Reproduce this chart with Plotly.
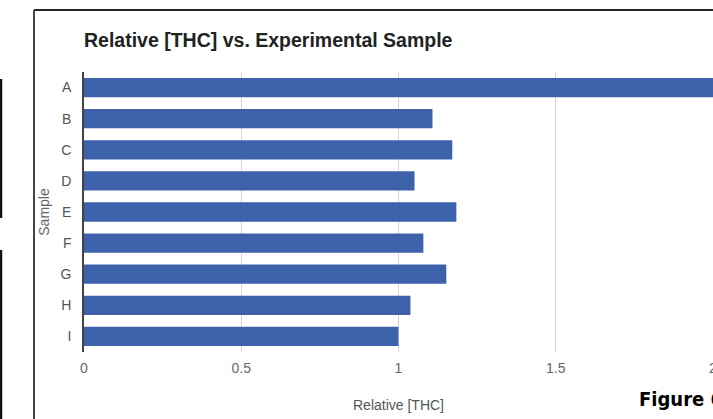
import plotly.graph_objects as go

samples = ["A", "B", "C", "D", "E", "F", "G", "H", "I"]
relative_thc = [2.0, 1.108, 1.171, 1.051, 1.184, 1.079, 1.152, 1.038, 1.0]
x_ticks = [0, 0.5, 1, 1.5, 2]
x_tick_labels = ["0", "0.5", "1", "1.5", "2"]

W, H = 713, 419
L, R, T, B = 84, 0, 72, 67
PW, PH = W - L - R, H - T - B

def px(x):
    return (x - L) / PW

def py(y):
    return (H - B - y) / PH

fig = go.Figure()
fig.add_trace(go.Bar(
    x=relative_thc, y=samples, orientation="h",
    marker=dict(color="#3d62ab", line=dict(width=0)),
))

fig.update_layout(
    width=W, height=H,
    margin=dict(l=L, r=R, t=T, b=B, pad=0, autoexpand=False),
    paper_bgcolor="white", plot_bgcolor="white",
    bargap=0.38,
    showlegend=False,
    font=dict(family="Liberation Sans, Arial, sans-serif", size=14, color="#555"),
    title=dict(
        text="<b>Relative [THC] vs. Experimental Sample</b>",
        x=0, xref="paper", xanchor="left",
        y=1 - 40 / H, yref="container", yanchor="middle",
        font=dict(size=19.5, color="#222", family="Liberation Sans, Arial, sans-serif"),
    ),
    xaxis=dict(
        range=[0, 2], tickvals=x_ticks, ticktext=x_tick_labels,
        showgrid=True, gridcolor="#d4d4d4", gridwidth=1,
        zeroline=False, showline=False, ticks="",
        ticklabelstandoff=6, ticklabeloverflow="allow",
        automargin=False,
        tickfont=dict(size=14, color="#666"),
        title=dict(text="Relative [THC]", standoff=25, font=dict(size=14, color="#555")),
        fixedrange=True,
    ),
    yaxis=dict(
        autorange="reversed",
        showgrid=False, zeroline=False,
        showline=True, linecolor="#444", linewidth=1.5,
        ticks="", ticklabelstandoff=8,
        automargin=False,
        tickfont=dict(size=14, color="#555"),
        title=dict(text="Sample", standoff=8, font=dict(size=14, color="#666")),
        fixedrange=True,
    ),
)

shapes = []
# frame lines of the scanned figure box
shapes.append(dict(type="line", xref="paper", yref="paper",
                   x0=px(34), x1=px(720), y0=py(10), y1=py(10),
                   line=dict(color="#222", width=2)))
shapes.append(dict(type="line", xref="paper", yref="paper",
                   x0=px(34), x1=px(34), y0=py(10), y1=py(425),
                   line=dict(color="#444", width=2)))
# page rule fragments on far left
shapes.append(dict(type="line", xref="paper", yref="paper",
                   x0=px(1), x1=px(1), y0=py(79), y1=py(218),
                   line=dict(color="#111", width=2.5)))
shapes.append(dict(type="line", xref="paper", yref="paper",
                   x0=px(1), x1=px(1), y0=py(250), y1=py(425),
                   line=dict(color="#111", width=2.5)))
fig.update_layout(shapes=shapes)

fig.add_annotation(
    text="<b>Figure 6</b>",
    xref="paper", yref="paper",
    x=px(637), y=py(399), xanchor="left", yanchor="middle",
    showarrow=False,
    font=dict(family="DejaVu Sans Condensed, Liberation Sans Narrow, sans-serif",
              size=20, color="#000", weight="bold"),
)

fig.write_html(
    "out.html",
    config={"displayModeBar": False},
    post_script="document.body.style.margin='0';document.body.style.overflow='hidden';",
)
